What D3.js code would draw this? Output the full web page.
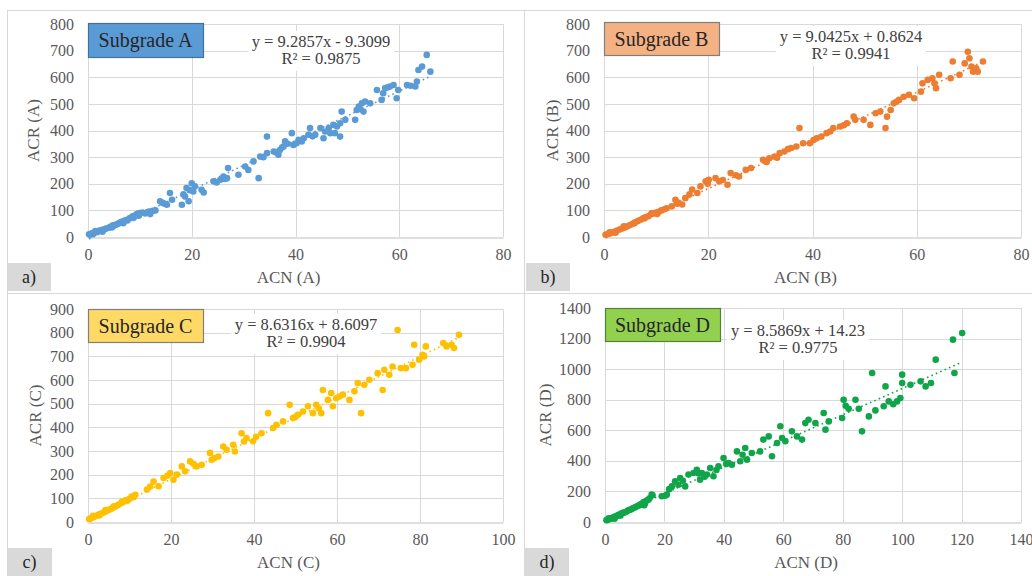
<!DOCTYPE html>
<html>
<head>
<meta charset="utf-8">
<script src="https://cdn.jsdelivr.net/npm/d3@7"></script>
<style>
  body { margin: 0; background: #fff; }
  svg { display: block; }
  svg text { font-family: "Liberation Serif", Tinos, "Times New Roman", "DejaVu Serif", serif !important; }
</style>
</head>
<body>
<svg id="chart" width="1032" height="576"></svg>
<script>
// ACN vs ACR measurements, one array of [ACN, ACR] pairs per subgrade
const pointsA = [
  [0.2,10],[0.4,8],[0.6,12],[0.8,14],[1,11],[1.2,16],[1.5,18],[1.8,20],[2,22],[2.3,24],[2.6,26],[3,28],
  [3.3,30],[3.6,33],[4,35],[4.3,38],[4.6,36],[5,42],[5.3,46],[5.6,48],[6,52],[6.3,55],[6.6,58],[7,60],
  [7.3,64],[7.6,62],[8,70],[8.3,72],[8.6,78],[9,80],[9.3,84],[9.6,88],[10,90],[10.5,92],[11,88],[11.5,94],
  [12,86],[12.5,98],[13,100],[1.4,22],[2.8,20],[4.8,44],[6.8,52],[8.8,72],[9.8,80],[11.8,96],
  [13.9,134],[14.4,128],[14.8,125],[15.2,121],[15.8,165],[16.2,140],[18.1,121],[18.4,160],[18.7,152],[19,184],[19.4,134],[19.6,176],[20,202],
  [20.3,171],[20.6,190],[21.9,177],[22.3,167],[24.2,209],[24.8,205],[25.5,215],[26.1,227],[26.4,218],[26.8,221],[27,259],[29,234],[30.3,265],
  [30.9,252],[31.9,284],[32.9,221],[33.2,302],[33.8,300],[34.5,377],[34.5,315],[35.8,321],[36.2,318],[36.7,309],[37,327],[37.4,336],[37.7,340],
  [38,359],[38.5,350],[39.3,390],[39.6,346],[40.2,352],[40.6,365],[41.2,359],[41.6,371],[42.5,384],[42.8,409],[43.3,378],[43.8,384],[44.8,409],
  [45.4,371],[45.7,396],[46.4,409],[46.7,390],[47.3,421],[47.6,390],[48,415],[48.6,377],[48.6,427],[48.9,471],[49.6,440],
  [51.5,440],[51.8,477],[52.2,490],[52.5,480],[52.8,502],[53.1,471],[53.4,509],[54.4,502],[55.7,552],[56.6,515],[56.9,540],
  [57.3,559],[57.8,562],[58.2,565],[58.9,571],[59.5,521],[59.8,552],[61.5,571],[62.2,568],[63.1,565],[63.4,584],[63.7,627],[64.4,640],
  [65.3,684],[66,621]
];
const pointsB = [
  [0.3,8],[0.6,10],[1,12],[1.3,15],[1.7,18],[2,20],[2.5,24],[3,28],[3.5,32],[4,36],[4.5,40],[5,45],
  [5.5,50],[6,55],[6.5,60],[7,65],[7.5,70],[8,75],[8.5,78],[9,85],[9.5,88],[10,92],[10.5,95],[11,100],
  [1.1,18],[2.2,16],[3.8,40],[5.8,52],[7.8,70],[9.2,90],[10.2,86],[11.6,104],
  [12,108],[13,115],[13.7,140],[14,125],[14.3,128],[15,122],[15.6,146],[16.4,160],[16.9,178],[17.9,165],[18.5,190],
  [19.5,209],[19.9,200],[20.1,215],[21.4,221],[22.1,209],[22.8,214],[23.7,196],[24.3,240],[25.3,232],[25.9,227],[27.2,252],[28.2,259],
  [30.5,290],[31.2,282],[31.7,296],[32.7,302],[33.2,298],[33.7,315],[34.6,321],[35.3,330],[35.9,334],[36.9,340],[37.5,409],[38.2,352],
  [39.5,352],[40.2,364],[40.8,371],[41.7,377],[42.7,390],[43.4,396],[44,409],[45.3,415],[46,420],[46.6,427],[47.9,452],[48.2,440],
  [49.8,440],[51.1,421],[52.1,465],[53,471],[54,409],[54.3,452],[55,477],[55.6,502],[56.1,508],[56.6,515],[57.5,527],
  [58.5,534],[59.5,521],[60.8,546],[61.1,577],[62.1,590],[63,596],[63.4,577],[63.7,559],[64.3,609],
  [66.5,596],[66.9,659],[68.2,609],[69.2,652],[69.8,696],[70.1,671],[70.5,640],[70.8,621],[71.4,634],
  [71.7,621],[72.7,659]
];
const pointsC = [
  [0.3,12],[0.6,15],[1,18],[1.5,22],[2,26],[2.5,30],[3,35],[3.5,38],[4,42],[4.5,46],[5,52],[5.5,55],
  [6,60],[6.5,65],[7,70],[7.5,75],[8,80],[8.5,85],[9,92],[10,98],[11,105],[11.4,115],
  [1.2,26],[2.8,28],[4.2,50],[6.2,66],[8.2,86],[9.5,90],[10.5,108],
  [14.2,137],[15,150],[15.8,171],[17,151],[18.2,186],[19.2,196],[19.8,207],[20.6,178],[21.4,200],[22.6,235],[23.4,214],
  [24.6,256],[25.4,246],[26.2,235],[27.4,242],[29.4,292],[29.8,263],[30.5,270],[31.4,277],[32.6,319],[33.4,305],[35,326],
  [35.4,298],[37,375],[37.6,340],[38.2,355],[39.8,341],[40.5,360],[41.8,375],[43.4,460],[44.6,397],[45.4,411],[47,425],
  [48.6,495],[49.4,439],[50,444],[50.6,453],[51.8,467],[53,489],[54.2,460],[55,495],[55.6,480],[56.2,460],[56.6,558],
  [57.8,516],[58.6,545],[59,489],[59.8,523],[60.6,530],[61.4,538],[63,516],[64.2,552],[65,587],[65.8,460],
  [66.6,580],[67.8,601],[69.8,629],[71,558],[71.4,643],[72.6,622],[73.4,657],[74.6,811],[75.4,650],
  [76.6,650],[78.2,664],[78.6,749],[79.8,686],[80.6,706],[81,699],[81.4,742],[85.6,756],[86.4,742],
  [87.6,749],[88.2,735],[89.4,791]
];
const pointsD = [
  [0.5,12],[1,15],[1.5,20],[2,22],[2.5,28],[3,32],[3.5,35],[4,40],[4.5,45],[5,50],[5.5,55],[6,60],
  [7,65],[7.5,72],[8,78],[8.5,80],[9,85],[10,95],[10.5,100],[11,105],[12,115],[12.5,120],[13,130],
  [1.2,25],[3.2,22],[5.2,42],[6.5,62],[9.5,92],[11.5,110],[13.2,110],
  [13.5,125],[14,140],[14.6,146],[15,155],[15.7,179],[16,175],[19.1,168],[20.2,172],[20.8,179],[21.6,215],[22.5,233],
  [23.6,266],[24.7,244],[25.3,288],[26.2,270],[27,233],[28.1,310],[29.8,321],[30.9,342],[31.5,318],[32,277],[32.6,321],
  [33.5,296],[34.3,310],[35.4,353],[36.5,299],[37.5,340],[38.2,364],[39.9,419],[40.8,380],[41.6,386],[42.7,375],[44.4,462],[45.5,397],
  [46.3,440],[47.2,484],[47.8,408],[49.4,451],[52.2,462],[53.3,539],[55.1,560],[56.2,430],[57.9,517],[59,626],
  [59.6,550],[60.7,528],[62.9,593],[64.6,560],[66.3,539],[67.4,647],[68.5,669],[70.8,647],[73.6,713],
  [74.2,604],[75.3,658],[79.8,680],[80.3,800],[81,760],[82,741],[84.3,800],[85.4,741],[86.5,593],[88.8,691],
  [89.9,975],[91,730],[93.8,757],[94.4,887],[95.5,789],[97,770],[98.3,789],[99.4,811],[100,964],[100,909],
  [102.8,898],[106.2,920],[107.9,887],[109.7,909],[111.3,1062],[117.1,1193],[117.6,975],[120.2,1236]
];

// Linear fits reported for each subgrade
const slopes = [9.2857, 9.0425, 8.6316, 8.5869];
const intercepts = [-9.3099, 0.8624, 8.6097, 14.23];
const rSquared = ["0.9875", "0.9941", "0.9904", "0.9775"];
const equations = ["y = 9.2857x - 9.3099", "y = 9.0425x + 0.8624", "y = 8.6316x + 8.6097", "y = 8.5869x + 14.23"];

// Axis tick values
const xTicksA = [0, 20, 40, 60, 80];
const yTicksA = [0, 100, 200, 300, 400, 500, 600, 700, 800];
const xTicksB = [0, 20, 40, 60, 80];
const yTicksB = [0, 100, 200, 300, 400, 500, 600, 700, 800];
const xTicksC = [0, 20, 40, 60, 80, 100];
const yTicksC = [0, 100, 200, 300, 400, 500, 600, 700, 800, 900];
const xTicksD = [0, 20, 40, 60, 80, 100, 120, 140];
const yTicksD = [0, 200, 400, 600, 800, 1000, 1200, 1400];

const subgrades = ["A", "B", "C", "D"];
const panelTags = ["a)", "b)", "c)", "d)"];

const FONT = "'Liberation Serif', Tinos, 'Times New Roman', serif";
const svg = d3.select("#chart").attr("font-family", FONT);

// Panel layout and styling
const panels = [
  { pts: pointsA, xt: xTicksA, yt: yTicksA, box: [7, 10, 524, 293], px: [88, 503], py: [237, 24],
    color: "#5b9bd5", legFill: "#5b9bd5", legStroke: "#41719c", leg: [88, 23, 115, 34],
    eq: [321, 41], tag: [7, 263, 44, 28], yTitle: 49 },
  { pts: pointsB, xt: xTicksB, yt: yTicksB, box: [524, 10, 1032, 293], px: [604, 1021], py: [237, 24],
    color: "#ed7d31", legFill: "#f4b183", legStroke: "#7f7f7f", leg: [604, 22, 115, 33],
    eq: [851, 36], tag: [526, 263, 44, 28], yTitle: 46 },
  { pts: pointsC, xt: xTicksC, yt: yTicksC, box: [7, 293, 524, 576], px: [88, 503], py: [522, 309],
    color: "#ffc000", legFill: "#ffd966", legStroke: "#7f7f7f", leg: [88, 309, 115, 33],
    eq: [306, 324], tag: [7, 548, 45, 28], yTitle: 47 },
  { pts: pointsD, xt: xTicksD, yt: yTicksD, box: [524, 293, 1032, 576], px: [605, 1021], py: [522, 308],
    color: "#10a54a", legFill: "#92d050", legStroke: "#548235", leg: [605, 308, 115, 33],
    eq: [798, 330], tag: [525, 548, 44, 28], yTitle: 54 }
];

panels.forEach((p, i) => {
  const g = svg.append("g");
  // panel frame
  g.append("rect")
    .attr("x", p.box[0] + 0.5).attr("y", p.box[1] + 0.5)
    .attr("width", p.box[2] - p.box[0]).attr("height", p.box[3] - p.box[1])
    .attr("fill", "none").attr("stroke", "#d9d9d9");

  const x = d3.scaleLinear().domain([0, d3.max(p.xt)]).range(p.px);
  const y = d3.scaleLinear().domain([0, d3.max(p.yt)]).range(p.py);

  // gridlines
  g.append("g").selectAll("line").data(p.yt.slice(1)).join("line")
    .attr("x1", p.px[0]).attr("x2", p.px[1])
    .attr("y1", d => Math.round(y(d)) + 0.5).attr("y2", d => Math.round(y(d)) + 0.5)
    .attr("stroke", "#d9d9d9");
  g.append("g").selectAll("line").data(p.xt).join("line")
    .attr("y1", p.py[0]).attr("y2", p.py[1])
    .attr("x1", d => Math.round(x(d)) + 0.5).attr("x2", d => Math.round(x(d)) + 0.5)
    .attr("stroke", "#d9d9d9");

  // x axis
  const xAxis = g.append("g").attr("transform", `translate(0,${Math.round(p.py[0]) + 0.5})`)
    .call(d3.axisBottom(x).tickValues(p.xt).tickFormat(d3.format("d")).tickSize(0).tickPadding(11));
  xAxis.attr("font-family", FONT);
  xAxis.select(".domain").attr("stroke", "#bfbfbf");
  xAxis.selectAll("text").attr("font-size", 16).attr("fill", "#595959");

  // y axis
  const yAxis = g.append("g").attr("transform", `translate(${p.px[0]},0)`)
    .call(d3.axisLeft(y).tickValues(p.yt).tickFormat(d3.format("d")).tickSize(0).tickPadding(14));
  yAxis.attr("font-family", FONT);
  yAxis.select(".domain").remove();
  yAxis.selectAll("text").attr("font-size", 16).attr("fill", "#595959");

  // axis titles
  const midX = (p.px[0] + p.px[1]) / 2;
  const midY = (p.py[0] + p.py[1]) / 2;
  g.append("text").attr("x", midX - 7).attr("y", p.py[0] + 46)
    .attr("text-anchor", "middle").attr("font-size", 17).attr("fill", "#595959")
    .text(`ACN (${subgrades[i]})`);
  g.append("text")
    .attr("transform", `translate(${p.px[0] - p.yTitle},${midY}) rotate(-90)`)
    .attr("text-anchor", "middle").attr("font-size", 17).attr("fill", "#595959")
    .text(`ACR (${subgrades[i]})`);

  // trend line over the observed ACN range
  const xr = d3.extent(p.pts, d => d[0]);
  g.append("line")
    .attr("x1", x(xr[0])).attr("y1", y(slopes[i] * xr[0] + intercepts[i]))
    .attr("x2", x(xr[1])).attr("y2", y(slopes[i] * xr[1] + intercepts[i]))
    .attr("stroke", p.color).attr("stroke-width", 1.6).attr("stroke-dasharray", "1.6,3.2");

  // scatter points
  g.append("g").selectAll("circle").data(p.pts).join("circle")
    .attr("cx", d => x(d[0])).attr("cy", d => y(d[1])).attr("r", 3.3)
    .attr("fill", p.color);

  // equation label on white backing
  const eqG = g.append("g");
  const t1 = eqG.append("text").attr("x", p.eq[0]).attr("y", p.eq[1] + 6)
    .attr("text-anchor", "middle").attr("font-size", 16.5).attr("fill", "#404040")
    .text(equations[i]);
  eqG.append("text").attr("x", p.eq[0]).attr("y", p.eq[1] + 23)
    .attr("text-anchor", "middle").attr("font-size", 16.5).attr("fill", "#404040")
    .text(`R² = ${rSquared[i]}`);
  const b1 = t1.node().getBBox();
  eqG.insert("rect", "text")
    .attr("x", b1.x - 4).attr("y", b1.y - 1).attr("width", b1.width + 8).attr("height", 40)
    .attr("fill", "#fff");

  // legend box
  g.append("rect")
    .attr("x", p.leg[0] + 0.5).attr("y", p.leg[1] + 0.5).attr("width", p.leg[2]).attr("height", p.leg[3])
    .attr("fill", p.legFill).attr("stroke", p.legStroke).attr("stroke-width", 1.2);
  g.append("text").attr("x", p.leg[0] + p.leg[2] / 2).attr("y", p.leg[1] + p.leg[3] / 2 + 7)
    .attr("text-anchor", "middle").attr("font-size", 20).attr("fill", "#262626")
    .text(`Subgrade ${subgrades[i]}`);

  // panel tag
  g.append("rect").attr("x", p.tag[0]).attr("y", p.tag[1]).attr("width", p.tag[2]).attr("height", p.tag[3])
    .attr("fill", "#d9d9d9");
  g.append("text").attr("x", p.tag[0] + p.tag[2] / 2).attr("y", p.tag[1] + 20)
    .attr("text-anchor", "middle").attr("font-size", 18).attr("fill", "#262626")
    .text(panelTags[i]);
});
</script>
</body>
</html>
